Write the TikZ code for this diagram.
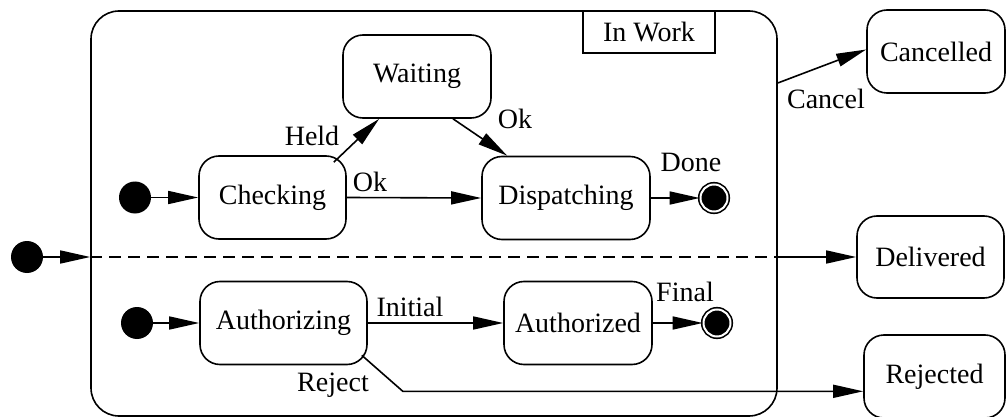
\documentclass[tikz,border=0pt]{standalone}
\usepackage{fontspec}
\setmainfont{Liberation Serif}
\usetikzlibrary{arrows.meta,calc}
\begin{document}
\begin{tikzpicture}[x=1pt,y=-1pt,
  every node/.style={font=\fontsize{28}{30}\selectfont},
  lw/.style={line width=1.6pt},
  statebox/.style={lw,draw,rectangle,rounded corners=20pt,inner sep=0pt},
  initdot/.style={circle,fill=black,minimum size=32pt,inner sep=0pt},
  finaldot/.style={circle,fill=black,draw=black,line width=1.6pt,double=white,double distance=2pt,minimum size=27pt,inner sep=0pt},
  lbl/.style={inner sep=0pt},
  arr/.style={lw,-{Triangle[length=30pt,width=13pt]}}]
\useasboundingbox (0,0) rectangle (1007,417);

% composite state
\node[lw,draw,rectangle,rounded corners=28pt,minimum width=686pt,minimum height=405pt,inner sep=0pt] (inwork) at (434,213.5) {};
\node[lw,draw,rectangle,minimum width=132pt,minimum height=42pt,inner sep=0pt] (inworklbl) at (649,32) {In Work};

% states
\node[statebox,minimum width=148pt,minimum height=83pt] (waiting) at (417,76.5) {Waiting};
\node[statebox,minimum width=147pt,minimum height=83pt] (checking) at (272.5,197.5) {Checking};
\node[statebox,minimum width=168pt,minimum height=83pt] (dispatching) at (566,198) {Dispatching};
\node[statebox,minimum width=167pt,minimum height=83pt] (authorizing) at (283.5,323) {Authorizing};
\node[statebox,minimum width=148pt,minimum height=83pt] (authorized) at (578,323) {Authorized};
\node[statebox,minimum width=138pt,minimum height=83pt] (cancelled) at (936,51.5) {Cancelled};
\node[statebox,minimum width=147pt,minimum height=82pt] (delivered) at (930.5,257) {Delivered};
\node[statebox,minimum width=141pt,minimum height=83pt] (rejected) at (934.5,376.5) {Rejected};

% pseudo states
\node[initdot] (init0) at (27,257) {};
\node[initdot] (init1) at (135,197.5) {};
\node[initdot] (init2) at (137,323) {};
\node[finaldot] (final1) at (714,198) {};
\node[finaldot] (final2) at (717,323) {};

% transitions
\draw[arr] (init1) -- (checking);
\draw[arr] ([xshift=-13pt,yshift=-7pt]checking.north east) -- ([xshift=37pt]waiting.south west);
\draw[arr] ([xshift=36pt]waiting.south) -- ([xshift=26pt]dispatching.north west);
\draw[arr] (checking.east) -- (dispatching.west);
\draw[arr] (dispatching.east) -- (final1);
\draw[arr] (init2) -- (authorizing);
\draw[arr] (authorizing.east) -- (authorized.west);
\draw[arr] (authorized.east) -- (final2);

\draw[arr] (init0) -- (init0 -| inwork.west);
\draw[lw,dash pattern=on 12pt off 7pt] (init0 -| inwork.west) -- (init0 -| inwork.east);
\draw[arr] (init0 -| inwork.east) -- (delivered.west);

\draw[arr] ([yshift=130.5pt]inwork.east) -- ([yshift=2pt]cancelled.west);

\path ([xshift=-6pt,yshift=10pt]authorizing.south east) ++(41pt,-36pt) coordinate (rjbend);
\draw[arr] ([xshift=-6pt,yshift=10pt]authorizing.south east) -- (rjbend) -- (rjbend -| rejected.west);

% labels
\node[lbl] (lheld) at (312,136) {Held};
\node[lbl] (lok1) at (515,119) {Ok};
\node[lbl] (lok2) at (370,182) {Ok};
\node[lbl] (ldone) at (691,162) {Done};
\node[lbl] (lfinal) at (685,292) {Final};
\node[lbl] (linitial) at (410,307) {Initial};
\node[lbl] (lreject) at (333,385) {Reject};
\node[lbl] (lcancel) at (826,99) {Cancel};
\end{tikzpicture}
\end{document}
